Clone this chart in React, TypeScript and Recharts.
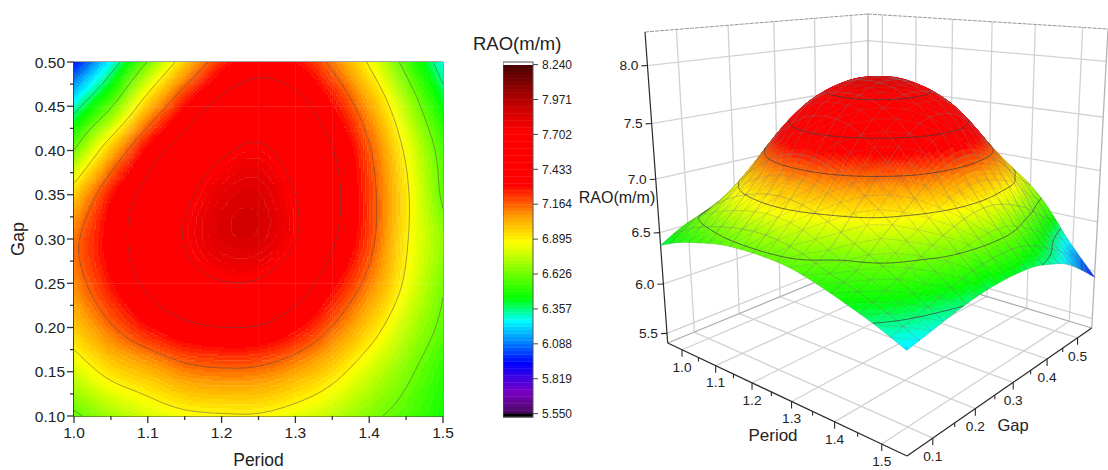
import React from 'react';
import { ScatterChart, Scatter, XAxis, YAxis, ReferenceLine } from 'recharts';

const FONT = '"Liberation Sans", Arial, sans-serif';

// ---------- contour map data ----------
const heatPeriods = [1.0, 1.05, 1.1, 1.15, 1.2, 1.25, 1.3, 1.35, 1.4, 1.45, 1.5];
const heatGaps = [0.5, 0.45, 0.4, 0.35, 0.3, 0.25, 0.2, 0.15, 0.1];
const heatGap050 = [5.95, 6.27, 6.635, 6.98, 7.25, 7.36, 7.3, 7.13, 6.875, 6.57, 6.28];
const heatGap045 = [6.3, 6.61, 7.0, 7.3, 7.49, 7.56, 7.5, 7.31, 7.06, 6.75, 6.43];
const heatGap040 = [6.63, 7.01, 7.33, 7.52, 7.67, 7.73, 7.61, 7.44, 7.18, 6.87, 6.56];
const heatGap035 = [6.97, 7.28, 7.49, 7.66, 7.81, 7.84, 7.7, 7.49, 7.22, 6.92, 6.6];
const heatGap030 = [7.13, 7.35, 7.53, 7.71, 7.84, 7.85, 7.71, 7.46, 7.21, 6.91, 6.68];
const heatGap025 = [7.1, 7.29, 7.47, 7.61, 7.69, 7.68, 7.54, 7.33, 7.12, 6.87, 6.64];
const heatGap020 = [6.98, 7.15, 7.29, 7.39, 7.43, 7.42, 7.32, 7.16, 6.97, 6.77, 6.59];
const heatGap015 = [6.8, 6.94, 7.02, 7.11, 7.14, 7.13, 7.06, 6.95, 6.8, 6.66, 6.51];
const heatGap010 = [6.6, 6.71, 6.8, 6.86, 6.88, 6.88, 6.83, 6.76, 6.66, 6.57, 6.47];
const heatRows = [heatGap050, heatGap045, heatGap040, heatGap035, heatGap030, heatGap025, heatGap020, heatGap015, heatGap010];

const periodTicks = [1.0, 1.05, 1.1, 1.15, 1.2, 1.25, 1.3, 1.35, 1.4, 1.45, 1.5];
const gapTicks = [0.1, 0.125, 0.15, 0.175, 0.2, 0.225, 0.25, 0.275, 0.3, 0.325, 0.35, 0.375, 0.4, 0.425, 0.45, 0.475, 0.5];

// ---------- colour scale ----------
const scaleTicks = [5.55, 5.819, 6.088, 6.357, 6.626, 6.895, 7.164, 7.433, 7.702, 7.971, 8.24];
const contourLevels = [5.819, 6.088, 6.357, 6.626, 6.895, 7.164, 7.433, 7.702, 7.971];
const stopValues = [5.55, 5.72, 5.94, 6.1, 6.27, 6.44, 6.873, 7.07, 7.31, 7.72, 7.9, 7.99, 8.24];
const stopColors = ['#4a0a5e', '#7a00c4', '#0000ff', '#0080ff', '#00ffff', '#00ff00', '#ffff00', '#ffa000', '#ff0000', '#ff0000', '#cc0000', '#aa0000', '#480000'];
const BAND = 0.0269;

// ---------- 3D surface data: rows run along gap, columns along period ----------
const surfaceRow00 = [6.38, 6.47, 6.53, 6.58, 6.6, 6.6, 6.58, 6.52, 6.44, 6.35, 6.24];
const surfaceRow01 = [6.51, 6.66, 6.75, 6.81, 6.84, 6.82, 6.74, 6.62, 6.54, 6.43, 6.29];
const surfaceRow02 = [6.58, 6.8, 6.96, 7.06, 7.1, 7.07, 6.98, 6.85, 6.68, 6.5, 6.34];
const surfaceRow03 = [6.68, 7.0, 7.22, 7.38, 7.44, 7.39, 7.24, 7.04, 6.8, 6.6, 6.38];
const surfaceRow04 = [6.84, 7.21, 7.47, 7.62, 7.66, 7.63, 7.48, 7.24, 6.92, 6.66, 6.4];
const surfaceRow05 = [6.98, 7.32, 7.6, 7.74, 7.78, 7.75, 7.63, 7.39, 7.0, 6.69, 6.4];
const surfaceRow06 = [6.97, 7.32, 7.62, 7.78, 7.82, 7.78, 7.66, 7.44, 7.02, 6.68, 6.38];
const surfaceRow07 = [6.89, 7.2, 7.52, 7.71, 7.78, 7.74, 7.62, 7.38, 6.98, 6.6, 6.32];
const surfaceRow08 = [6.77, 7.0, 7.29, 7.52, 7.62, 7.6, 7.47, 7.22, 6.9, 6.48, 6.24];
const surfaceRow09 = [6.66, 6.81, 7.0, 7.2, 7.32, 7.32, 7.21, 7.02, 6.72, 6.36, 6.1];
const surfaceRow10 = [6.3, 6.66, 6.77, 6.89, 6.97, 6.99, 6.93, 6.83, 6.6, 6.25, 5.94];
const surfaceRows = [surfaceRow00, surfaceRow01, surfaceRow02, surfaceRow03, surfaceRow04, surfaceRow05, surfaceRow06, surfaceRow07, surfaceRow08, surfaceRow09, surfaceRow10];

const axisPeriods = [1.0, 1.1, 1.2, 1.3, 1.4, 1.5];
const axisPeriodMinors = [1.05, 1.15, 1.25, 1.35, 1.45];
const axisGaps = [0.1, 0.2, 0.3, 0.4, 0.5];
const axisGapMinors = [0.15, 0.25, 0.35, 0.45];
const axisRaos = [5.5, 6.0, 6.5, 7.0, 7.5, 8.0];

// ---------- helpers ----------
const hex = (c: string) => [1, 3, 5].map((i) => parseInt(c.slice(i, i + 2), 16));
function colorOf(v: number) {
  if (v <= stopValues[0]) return stopColors[0];
  for (let i = 1; i < stopValues.length; i++) {
    if (v <= stopValues[i]) {
      const t = (v - stopValues[i - 1]) / (stopValues[i] - stopValues[i - 1]);
      const a = hex(stopColors[i - 1]);
      const b = hex(stopColors[i]);
      return `rgb(${a.map((x, k) => Math.round(x + (b[k] - x) * t)).join(',')})`;
    }
  }
  return stopColors[stopColors.length - 1];
}
const bandIndex = (v: number) => Math.floor((v - 5.55) / BAND);
const bandColor = (v: number) => colorOf(5.55 + (bandIndex(v) + 0.5) * BAND);

function cr(a: number, b: number, c: number, d: number, t: number) {
  return 0.5 * (2 * b + (c - a) * t + (2 * a - 5 * b + 4 * c - d) * t * t + (3 * b - a - 3 * c + d) * t * t * t);
}
function at(rows: number[][], r: number, c: number) {
  const R = rows.length - 1;
  const C = rows[0].length - 1;
  const rr = Math.min(R, Math.max(0, r));
  const cc = Math.min(C, Math.max(0, c));
  let v = rows[rr][cc];
  if (r < 0) v += rows[0][cc] - rows[1][cc];
  if (r > R) v += rows[R][cc] - rows[R - 1][cc];
  if (c < 0) v += rows[rr][0] - rows[rr][1];
  if (c > C) v += rows[rr][C] - rows[rr][C - 1];
  return v;
}
function bicubic(rows: number[][], r: number, c: number) {
  const R = rows.length - 1;
  const C = rows[0].length - 1;
  const ri = Math.min(R - 1, Math.floor(r));
  const ci = Math.min(C - 1, Math.floor(c));
  const fr = r - ri;
  const fc = c - ci;
  const line = [-1, 0, 1, 2].map((k) => cr(at(rows, ri + k, ci - 1), at(rows, ri + k, ci), at(rows, ri + k, ci + 1), at(rows, ri + k, ci + 2), fc));
  return cr(line[0], line[1], line[2], line[3], fr);
}

function marching(val: (i: number, j: number) => number, pos: (i: number, j: number) => [number, number], ni: number, nj: number) {
  let d = '';
  const f = (n: number) => n.toFixed(1);
  for (const level of contourLevels) {
    for (let i = 0; i < ni; i++) {
      for (let j = 0; j < nj; j++) {
        const corners: [number, number][] = [[i, j], [i + 1, j], [i + 1, j + 1], [i, j + 1]];
        const pts: [number, number][] = [];
        for (let k = 0; k < 4; k++) {
          const a = corners[k];
          const b = corners[(k + 1) % 4];
          const va = val(a[0], a[1]);
          const vb = val(b[0], b[1]);
          if ((va < level) !== (vb < level)) {
            const t = (level - va) / (vb - va);
            const pa = pos(a[0], a[1]);
            const pb = pos(b[0], b[1]);
            pts.push([pa[0] + (pb[0] - pa[0]) * t, pa[1] + (pb[1] - pa[1]) * t]);
          }
        }
        if (pts.length >= 2) d += `M${f(pts[0][0])} ${f(pts[0][1])}L${f(pts[1][0])} ${f(pts[1][1])}`;
        if (pts.length === 4) d += `M${f(pts[2][0])} ${f(pts[2][1])}L${f(pts[3][0])} ${f(pts[3][1])}`;
      }
    }
  }
  return d;
}

// ---------- contour map ----------
const MAP_W = 369;
const MAP_H = 354;
const CELL_W = MAP_W / (heatPeriods.length - 1);
const CELL_H = MAP_H / (heatGaps.length - 1);
const heatCells: { period: number; gap: number; c: number; r: number }[] = [];
heatGaps.slice(0, -1).forEach((gap, r) => heatPeriods.slice(0, -1).forEach((period, c) => heatCells.push({ period, gap, c, r })));

function HeatCell(props: any) {
  const { cx, cy, payload } = props;
  const { c, r } = payload;
  const nx = Math.ceil(CELL_W / 2);
  const ny = Math.ceil(CELL_H / 2);
  const groups: Record<string, string> = {};
  for (let i = 0; i < nx; i++) {
    for (let j = 0; j < ny; j++) {
      const v = bicubic(heatRows, r + (j + 0.5) / ny, c + (i + 0.5) / nx);
      const col = bandColor(v);
      const x = cx + (i * CELL_W) / nx;
      const y = cy + (j * CELL_H) / ny;
      groups[col] = (groups[col] || '') + `M${x.toFixed(1)} ${y.toFixed(1)}h${(CELL_W / nx + 0.4).toFixed(1)}v${(CELL_H / ny + 0.4).toFixed(1)}h-${(CELL_W / nx + 0.4).toFixed(1)}z`;
    }
  }
  return <g>{Object.keys(groups).map((col) => <path key={col} d={groups[col]} fill={col} />)}</g>;
}
function HeatContour(props: any) {
  const { cx, cy, payload } = props;
  const { c, r } = payload;
  const n = 8;
  const d = marching(
    (i, j) => bicubic(heatRows, r + j / n, c + i / n),
    (i, j) => [cx + (i * CELL_W) / n, cy + (j * CELL_H) / n],
    n, n,
  );
  return d ? <path d={d} fill="none" stroke="#4a4a4a" strokeOpacity={0.55} strokeWidth={0.9} /> : <g />;
}

function MapXTick(props: any) {
  const { x, y, payload } = props;
  const major = Math.round(payload.value * 100) % 10 === 0;
  return (
    <g>
      <line x1={x} x2={x} y1={y} y2={y + (major ? 7 : 4)} stroke="#333" strokeWidth={1.3} />
      {major && <text x={x} y={y + 22} textAnchor="middle" fontSize={15.5} fill="#222" fontFamily={FONT}>{payload.value.toFixed(1)}</text>}
    </g>
  );
}
function MapYTick(props: any) {
  const { x, y, payload } = props;
  const major = Math.round(payload.value * 1000) % 50 === 0;
  return (
    <g>
      <line x1={x - (major ? 7 : 4)} x2={x} y1={y} y2={y} stroke="#333" strokeWidth={1.3} />
      {major && <text x={x - 9} y={y + 5.5} textAnchor="end" fontSize={15.5} fill="#222" fontFamily={FONT}>{payload.value.toFixed(2)}</text>}
    </g>
  );
}

// ---------- 3D projection ----------
const RIGHT_LEFT = 570;
const RIGHT_W = 538;
const Z0 = 5.4;
const Z1 = 8.28;
const K = 0.89;
const P_MIN = 0.955;
const P_MAX = 1.55;
const G_MIN = 0.045;
const G_MAX = 0.55;
type Pt = [number, number];
function homography(q: Pt[]) {
  const [[x0, y0], [x1, y1], [x2, y2], [x3, y3]] = q;
  const dx1 = x1 - x2, dx2 = x3 - x2, sx = x0 - x1 + x2 - x3;
  const dy1 = y1 - y2, dy2 = y3 - y2, sy = y0 - y1 + y2 - y3;
  const den = dx1 * dy2 - dx2 * dy1;
  const g = (sx * dy2 - dx2 * sy) / den;
  const h = (dx1 * sy - sx * dy1) / den;
  const a = x1 - x0 + g * x1, b = x3 - x0 + h * x3, d = y1 - y0 + g * y1, e = y3 - y0 + h * y3;
  return (u: number, v: number): Pt => {
    const w = g * u + h * v + 1;
    return [(a * u + b * v + x0) / w, (d * u + e * v + y0) / w];
  };
}
const floorMap = homography([[667.7, 343], [907, 456], [1091.7, 328], [868, 260.6]]);
const topMap = homography([[645, 32], [906, 62], [1108, 29], [868, 14]]);
function project(u: number, v: number, z: number): Pt {
  const b = floorMap(u, v);
  const T = topMap(u, v);
  const t = (z - Z0) / (Z1 - Z0);
  const w = 1 - t + K * t;
  return [(b[0] * (1 - t) + T[0] * K * t) / w, (b[1] * (1 - t) + T[1] * K * t) / w];
}
const uOf = (p: number) => (p - P_MIN) / (P_MAX - P_MIN);
const vOf = (g: number) => (g - G_MIN) / (G_MAX - G_MIN);

// surface cells, ordered back to front
const GRID = surfaceRows.length - 1;
const surfaceCells: { sx: number; sy: number; c: number; r: number }[] = [];
for (let r = 0; r < GRID; r++) {
  for (let c = 0; c < GRID; c++) {
    const [sx, sy] = project(c / GRID, r / GRID, surfaceRows[r][c]);
    surfaceCells.push({ sx: sx - RIGHT_LEFT, sy, c, r });
  }
}
const surfaceOrder = surfaceCells.slice().sort((a, b) => (a.c - a.r) - (b.c - b.r));

function SurfaceCell(props: any) {
  const { cx, cy, payload } = props;
  const { c, r } = payload;
  const n = 10;
  const meshStep = 5;
  const ox = cx - payload.sx - RIGHT_LEFT;
  const oy = cy - payload.sy;
  const val = (i: number, j: number) => bicubic(surfaceRows, r + j / n, c + i / n);
  const pos = (i: number, j: number): Pt => {
    const p = project((c + i / n) / GRID, (r + j / n) / GRID, val(i, j));
    return [p[0] + ox, p[1] + oy];
  };
  const f = (p: Pt) => `${p[0].toFixed(1)} ${p[1].toFixed(1)}`;
  const out: React.ReactNode[] = [];
  let curColor = '';
  let curPath = '';
  const flush = () => {
    if (curPath) out.push(<path key={out.length} d={curPath} fill={curColor} stroke={curColor} strokeWidth={0.5} />);
    curPath = '';
  };
  for (let i = 0; i < n; i++) {
    for (let j = n - 1; j >= 0; j--) {
      const col = bandColor((val(i, j) + val(i + 1, j) + val(i + 1, j + 1) + val(i, j + 1)) / 4);
      if (col !== curColor) { flush(); curColor = col; }
      curPath += `M${f(pos(i, j))}L${f(pos(i + 1, j))}L${f(pos(i + 1, j + 1))}L${f(pos(i, j + 1))}Z`;
    }
  }
  flush();
  let mesh = '';
  for (let i = 0; i < n; i += meshStep) {
    for (let j = 0; j < n; j += meshStep) {
      const a = pos(i, j), b = pos(i + meshStep, j), e = pos(i + meshStep, j + meshStep), g = pos(i, j + meshStep);
      mesh += `M${f(a)}L${f(b)}L${f(e)}L${f(g)}Z`;
      mesh += `M${f(a)}L${f(e)}`;
    }
  }
  out.push(<path key="mesh" d={mesh} fill="none" stroke="#777" strokeOpacity={0.38} strokeWidth={0.6} />);
  const cd = marching(val, pos, n, n);
  if (cd) out.push(<path key="contour" d={cd} fill="none" stroke="#3a3a3a" strokeOpacity={0.8} strokeWidth={0.9} />);
  return <g>{out}</g>;
}

// frame segments derived from the axis ticks
type Seg = { sx: number; sy: number; ex: number; ey: number; stroke: string; w: number; dash?: string };
const segs: Seg[] = [];
function seg(a: Pt, b: Pt, stroke: string, w: number, dash?: string) {
  segs.push({ sx: a[0] - RIGHT_LEFT, sy: a[1], ex: b[0] - RIGHT_LEFT, ey: b[1], stroke, w, dash });
}
const GRID_C = '#d2d2d2';
axisPeriods.forEach((p) => {
  const u = uOf(p);
  seg(project(u, 0, Z0), project(u, 1, Z0), GRID_C, 1.3);
  seg(project(u, 1, Z0), project(u, 1, Z1), GRID_C, 1.3);
});
axisGaps.forEach((g) => {
  const v = vOf(g);
  seg(project(0, v, Z0), project(1, v, Z0), GRID_C, 1.3);
  seg(project(0, v, Z0), project(0, v, Z1), GRID_C, 1.3);
});
axisRaos.forEach((z) => {
  seg(project(0, 0, z), project(0, 1, z), GRID_C, 1.3);
  seg(project(0, 1, z), project(1, 1, z), GRID_C, 1.3);
});
seg(project(0, 0, Z1), project(0, 1, Z1), '#999', 1, '4 1');
seg(project(0, 1, Z1), project(1, 1, Z1), '#999', 1, '4 1');
seg(project(0, 1, Z0), project(0, 1, Z1), '#b5b5b5', 1.3);
seg(project(1, 1, Z0), project(1, 1, Z1), '#b5b5b5', 1.3);
seg(project(0, 0, Z0), project(0, 1, Z0), '#aaa', 1.2);
seg(project(0, 1, Z0), project(1, 1, Z0), '#aaa', 1.2);
const AX = '#2a2a2a';
seg(project(0, 0, Z0), project(1, 0, Z0), AX, 1.2);
seg(project(1, 0, Z0), project(1, 1, Z0), AX, 1.2);
seg(project(0, 0, Z0), project(0, 0, Z1), AX, 1.2);
const down = (p: Pt, n: number): Pt => [p[0], p[1] + n];
const leftOf = (p: Pt, n: number): Pt => [p[0] - n, p[1] + n * 0.05];
axisPeriods.forEach((p) => { const a = project(uOf(p), 0, Z0); seg(a, down(a, 7), AX, 1.1); });
axisPeriodMinors.forEach((p) => { const a = project(uOf(p), 0, Z0); seg(a, down(a, 4), AX, 1.1); });
axisGaps.forEach((g) => { const a = project(1, vOf(g), Z0); seg(a, down(a, 7), AX, 1.1); });
axisGapMinors.forEach((g) => { const a = project(1, vOf(g), Z0); seg(a, down(a, 4), AX, 1.1); });
axisRaos.forEach((z) => { const a = project(0, 0, z); seg(a, leftOf(a, 6), AX, 1.1); });

function SegShape(props: any) {
  const { cx, cy, payload: s } = props;
  return <line x1={cx} y1={cy} x2={cx + s.ex - s.sx} y2={cy + s.ey - s.sy} stroke={s.stroke} strokeWidth={s.w} strokeDasharray={s.dash} />;
}

// labels of the 3D axes
type Lab = { sx: number; sy: number; text: string; size: number; anchor: string };
const labs: Lab[] = [];
const lab = (p: Pt, text: string, size: number, anchor = 'middle') => labs.push({ sx: p[0] - RIGHT_LEFT, sy: p[1], text, size, anchor });
axisPeriods.forEach((p) => { const a = project(uOf(p), 0, Z0); lab([a[0], a[1] + 17], p.toFixed(1), 13.7); });
axisGaps.forEach((g) => { const a = project(1, vOf(g), Z0); lab([a[0], a[1] + 18], g.toFixed(1), 13.7); });
axisRaos.forEach((z) => { const a = project(0, 0, z); lab([a[0] - 9, a[1]], z.toFixed(1), 13.7, 'end'); });
lab([773, 435], 'Period', 17);
lab([1013, 425], 'Gap', 16.5);
lab([617, 197], 'RAO(m/m)', 16);

function LabShape(props: any) {
  const { cx, cy, payload: l } = props;
  return <text x={cx} y={cy} dy="0.35em" textAnchor={l.anchor} fontSize={l.size} fill="#222" fontFamily={FONT}>{l.text}</text>;
}

// ---------- colour bar ----------
const BAR_LOW = 5.524;
const BAR_HIGH = 8.26;
const BAR_W = 30;
const BAR_H = 355;
const BAR_PX = BAR_H / (BAR_HIGH - BAR_LOW);
const barBands = Array.from({ length: Math.round((8.24 - 5.55) / BAND) }, (_, i) => ({ x: 0, y: 5.55 + i * BAND, top: 5.55 + (i + 1) * BAND, fill: colorOf(5.55 + (i + 0.5) * BAND) }));
const barEnds = [
  { x: 0, y: BAR_LOW, top: 5.55, fill: '#000' },
  { x: 0, y: 8.24, top: BAR_HIGH, fill: '#fff' },
];
const barFrame = [{ x: 0, y: BAR_LOW, top: BAR_HIGH, fill: 'none', stroke: '#555' }];
function BarBand(props: any) {
  const { cx, cy, payload: b } = props;
  const h = (b.top - b.y) * BAR_PX;
  return <rect x={cx} y={cy - h} width={BAR_W} height={b.stroke ? h : h + 0.4} fill={b.fill} stroke={b.stroke || 'none'} strokeWidth={1} />;
}

export default function App() {
  return (
    <div style={{ position: 'absolute', left: 0, top: 0, width: 1108, height: 470, background: '#fff', overflow: 'hidden' }}>
      {/* contour map */}
      <div style={{ position: 'absolute', left: 0, top: 0 }}>
        <ScatterChart width={470} height={470} margin={{ top: 62, right: 27, bottom: 0, left: 0 }}>
          <XAxis type="number" dataKey="period" domain={[1, 1.5]} ticks={periodTicks} interval={0} height={54} tickSize={0} tickMargin={0} tickLine={false} tick={MapXTick} stroke="#333" strokeWidth={1.4}
            label={{ value: 'Period', position: 'insideBottom', offset: 4, fontSize: 17.5, fill: '#222', fontFamily: FONT }} />
          <YAxis type="number" dataKey="gap" domain={[0.1, 0.5]} ticks={gapTicks} interval={0} width={74} tickSize={0} tickMargin={0} tickLine={false} tick={MapYTick} stroke="#333" strokeWidth={1.4}
            label={{ value: 'Gap', angle: -90, position: 'insideLeft', offset: 18, fontSize: 18, fill: '#222', fontFamily: FONT, style: { textAnchor: 'middle' } }} />
          <Scatter data={heatCells} isAnimationActive={false} shape={HeatCell} />
          <Scatter data={heatCells} isAnimationActive={false} shape={HeatContour} />
          <ReferenceLine y={0.5} stroke="#444" strokeWidth={1.2} />
          <ReferenceLine x={1.5} stroke="#444" strokeWidth={1.2} />
          <ReferenceLine y={0.1} stroke="#333" strokeWidth={1.4} />
          <ReferenceLine x={1} stroke="#333" strokeWidth={1.4} />
        </ScatterChart>
      </div>

      {/* colour bar */}
      <div style={{ position: 'absolute', left: 473, top: 33, fontFamily: FONT, fontSize: 18.5, color: '#222', lineHeight: '22px', whiteSpace: 'nowrap' }}>RAO(m/m)</div>
      <div style={{ position: 'absolute', left: 503, top: 0 }}>
        <ScatterChart width={110} height={470} margin={{ top: 62, right: 0, bottom: 53, left: 0 }}>
          <XAxis type="number" dataKey="x" hide domain={[0, 1]} />
          <YAxis type="number" dataKey="y" orientation="right" domain={[BAR_LOW, BAR_HIGH]} ticks={scaleTicks} interval={0} width={80} tickSize={5} tickMargin={4} axisLine={false}
            tickFormatter={(v: number) => v.toFixed(3)} tick={{ fontSize: 12, fill: '#222', fontFamily: FONT }} tickLine={{ stroke: '#444' }} />
          <Scatter data={barBands} isAnimationActive={false} shape={BarBand} />
          <Scatter data={barEnds} isAnimationActive={false} shape={BarBand} />
          <Scatter data={barFrame} isAnimationActive={false} shape={BarBand} />
        </ScatterChart>
      </div>

      {/* 3D surface */}
      <div style={{ position: 'absolute', left: RIGHT_LEFT, top: 0 }}>
        <ScatterChart width={RIGHT_W} height={470} margin={{ top: 0, right: 0, bottom: 0, left: 0 }}>
          <XAxis type="number" dataKey="sx" hide domain={[0, RIGHT_W]} />
          <YAxis type="number" dataKey="sy" hide domain={[0, 470]} reversed />
          <Scatter data={segs} isAnimationActive={false} shape={SegShape} />
          <Scatter data={surfaceOrder} isAnimationActive={false} shape={SurfaceCell} />
          <Scatter data={labs} isAnimationActive={false} shape={LabShape} />
        </ScatterChart>
      </div>
    </div>
  );
}
